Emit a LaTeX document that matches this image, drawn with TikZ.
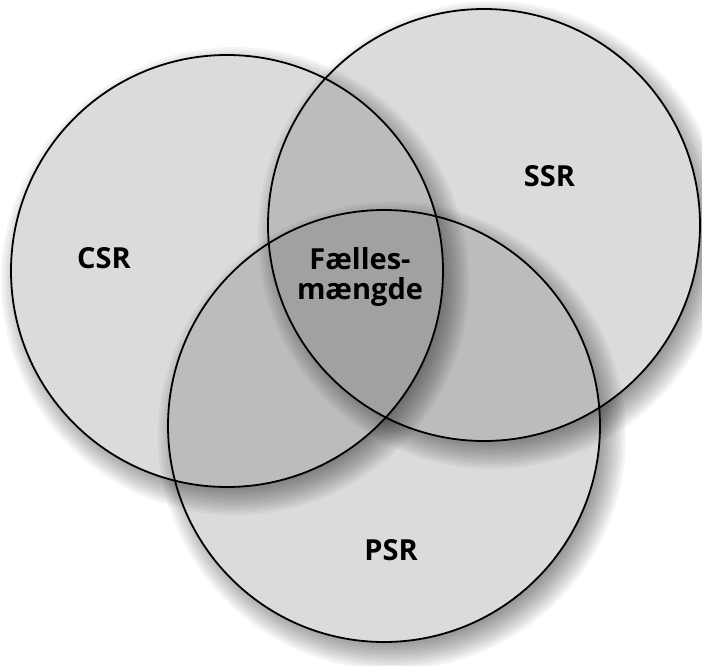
\documentclass[tikz,border=0pt]{standalone}
\usepackage{fontspec}
\setmainfont{Open Sans}
\usetikzlibrary{calc}

\begin{document}
\begin{tikzpicture}[x=1pt, y=-1pt,
    setfill/.style={fill=black, fill opacity=0.14},
    setline/.style={draw=black, line width=1.8pt},
    softshade/.style={fill=black, fill opacity=0.04},
    setlabel/.style={font=\fontsize{29}{30}\selectfont\bfseries, inner sep=0pt}]

  \path[use as bounding box, fill=white] (0,0) rectangle (702,666);

  \coordinate (psr) at (384,426);
  \coordinate (ssr) at (484,225);
  \coordinate (csr) at (227,271);

  % blurred shadow first, then the set itself
  \foreach \c in {psr,ssr,csr}{
    \begin{scope}[even odd rule]
      \clip (0,0) rectangle (702,666) (\c) circle (216);
      \foreach \i in {0,...,11}
        \fill[softshade] ($(\c)+(8,10)$) circle ({234-2.5*\i});
    \end{scope}
    \fill[setfill] (\c) circle (216);
  }
  \foreach \c in {psr,ssr,csr}
    \draw[setline] (\c) circle (216);

  \node[setlabel, anchor=base] (csrlabel) at (104,268.5) {CSR};
  \node[setlabel, anchor=base] (ssrlabel) at (549.5,186) {SSR};
  \node[setlabel, anchor=base] (psrlabel) at (391,560.5) {PSR};
  \node[setlabel, align=center] (common) at (360,277) {Fælles-\\mængde};
\end{tikzpicture}
\end{document}
